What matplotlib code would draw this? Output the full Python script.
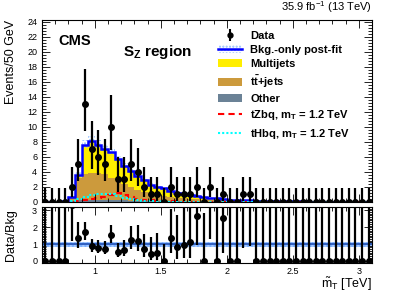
import numpy as np
import matplotlib
matplotlib.use("Agg")
import matplotlib.pyplot as plt
from matplotlib.patches import Patch
from matplotlib.lines import Line2D
from matplotlib.ticker import MultipleLocator, FormatStrFormatter

plt.rcParams['font.family'] = ['Liberation Sans', 'DejaVu Sans']
plt.rcParams['mathtext.fontset'] = 'custom'
plt.rcParams['mathtext.rm'] = 'Liberation Sans'
plt.rcParams['mathtext.it'] = 'Liberation Sans:italic'
plt.rcParams['mathtext.bf'] = 'Liberation Sans:bold'
plt.rcParams['hatch.linewidth'] = 1.0

# 50 GeV bins from 0.6 to 3.1 TeV
edges = np.round(np.linspace(0.60, 3.10, 51), 3)
centers = 0.5 * (edges[:-1] + edges[1:])

data = [0, 0, 0, 0, 2, 5, 13, 7, 6, 5,
        10, 3, 3, 5, 4, 2, 1, 1, 0, 2,
        1, 1, 1, 2, 0, 2, 0, 1, 0, 0,
        1, 1, 0, 0, 0, 0, 0, 0, 0, 0,
        0, 0, 0, 0, 0, 0, 0, 0, 0, 0]

bkg_total = [0.01, 0.01, 0.02, 0.1, 0.6, 3.6, 7.6, 8.1, 7.6, 7.1,
             6.6, 5.7, 4.8, 4.1, 3.4, 2.9, 2.3, 2.0, 1.8, 1.5,
             1.2, 1.05, 0.9, 0.75, 0.65, 0.55, 0.47, 0.39, 0.33, 0.28,
             0.23, 0.2, 0.17, 0.15, 0.13, 0.11, 0.1, 0.09, 0.08, 0.07,
             0.06, 0.055, 0.05, 0.045, 0.04, 0.035, 0.03, 0.03, 0.025, 0.02]

bkg_unc = [0.01, 0.01, 0.01, 0.05, 0.15, 0.35, 0.6, 0.65, 0.6, 0.5,
           0.45, 0.4, 0.35, 0.3, 0.25, 0.22, 0.18, 0.16, 0.14, 0.12,
           0.1, 0.09, 0.08, 0.07, 0.06, 0.05, 0.05, 0.04, 0.04, 0.03,
           0.03, 0.03, 0.02, 0.02, 0.02, 0.02, 0.02, 0.02, 0.02, 0.02,
           0.02, 0.02, 0.02, 0.02, 0.02, 0.02, 0.02, 0.02, 0.02, 0.02]

ttbar = [0.0, 0.0, 0.01, 0.05, 0.4, 3.0, 3.4, 3.6, 3.6, 3.4,
         3.0, 2.6, 2.2, 1.8, 1.5, 1.25, 1.0, 0.85, 0.7, 0.6,
         0.5, 0.42, 0.35, 0.3, 0.25, 0.21, 0.18, 0.15, 0.12, 0.1,
         0.09, 0.08, 0.07, 0.06, 0.05, 0.045, 0.04, 0.035, 0.03, 0.028,
         0.025, 0.022, 0.02, 0.018, 0.016, 0.014, 0.012, 0.01, 0.01, 0.008]

other = [0.0, 0.0, 0.0, 0.02, 0.1, 0.25, 0.3, 0.3, 0.3, 0.28,
         0.25, 0.22, 0.2, 0.18, 0.15, 0.13, 0.11, 0.1, 0.09, 0.08,
         0.07, 0.06, 0.05, 0.05, 0.04, 0.04, 0.03, 0.03, 0.03, 0.02,
         0.02, 0.02, 0.01, 0.01, 0.01, 0.01, 0.01, 0.01, 0.01, 0.01,
         0.01, 0.01, 0.01, 0.01, 0.01, 0.01, 0.01, 0.01, 0.01, 0.01]

tzbq = [0, 0, 0, 0.02, 0.05, 0.1, 0.2, 0.35, 0.5, 0.7,
        0.9, 1.2, 0.9, 0.6, 0.45, 0.3, 0.2, 0.15, 0.12, 0.1,
        0.08, 0.06, 0.05, 0.04, 0.03, 0.03, 0.02, 0.02, 0.02, 0.01,
        0.01, 0.01, 0.01, 0.01, 0.01, 0.01, 0.01, 0.01, 0.01, 0.01,
        0.01, 0.01, 0.01, 0.01, 0.01, 0.01, 0.01, 0.01, 0.01, 0.01]

thbq = [0, 0, 0, 0.02, 0.1, 0.4, 0.7, 0.9, 1.0, 1.05,
        1.0, 0.8, 0.55, 0.35, 0.22, 0.15, 0.1, 0.07, 0.05, 0.04,
        0.03, 0.03, 0.02, 0.02, 0.02, 0.01, 0.01, 0.01, 0.01, 0.01,
        0.01, 0.01, 0.01, 0.01, 0.01, 0.01, 0.01, 0.01, 0.01, 0.01,
        0.01, 0.01, 0.01, 0.01, 0.01, 0.01, 0.01, 0.01, 0.01, 0.01]

# Garwood 68% intervals for the observed counts
poisson_err = {0: (0.0, 1.841), 1: (0.827, 2.299), 2: (1.292, 2.638),
               3: (1.633, 2.918), 4: (1.914, 3.162), 5: (2.159, 3.382),
               6: (2.377, 3.583), 7: (2.575, 3.770), 10: (3.089, 4.267),
               13: (3.550, 4.710)}
ratio_band = 0.15

data = np.array(data, float)
bkg_total = np.array(bkg_total)
bkg_unc = np.array(bkg_unc)
ttbar = np.array(ttbar)
other = np.array(other)
multijets = np.clip(bkg_total - ttbar - other, 0, None)
err_lo = np.array([poisson_err[int(n)][0] for n in data])
err_hi = np.array([poisson_err[int(n)][1] for n in data])

c_multi = '#ffee00'
c_tt = '#cc9a3c'
c_other = '#6b8296'
c_band = '#8fbcff'

fig = plt.figure(figsize=(4.13, 2.96), dpi=100)
ax = fig.add_axes([0.1017, 0.3176, 0.799, 0.6148])
rax = fig.add_axes([0.1017, 0.1115, 0.799, 0.1892])

# stacked backgrounds
ax.stairs(other, edges, baseline=0, fill=True, color=c_other, lw=0)
ax.stairs(other + ttbar, edges, baseline=other, fill=True, color=c_tt, lw=0)
ax.stairs(other + ttbar + multijets, edges, baseline=other + ttbar,
          fill=True, color=c_multi, lw=0)
ax.stairs(bkg_total + bkg_unc, edges, baseline=bkg_total - bkg_unc, fill=True,
          facecolor='none', edgecolor=c_band, hatch='.....', lw=0)
ax.stairs(bkg_total, edges, color='#0000ff', lw=1.8)

ax.stairs(tzbq, edges, color='#ff0000', lw=1.5, ls=(0, (3, 2)))
ax.stairs(thbq, edges, color='#00ffff', lw=1.5, ls=(0, (1, 1)))

ax.errorbar(centers, data, yerr=[err_lo, err_hi], fmt='o', color='k',
            ms=4, elinewidth=1.6, capsize=0, zorder=5)

ax.set_xlim(0.6, 3.1)
ax.set_ylim(0, 24.2)
ax.yaxis.set_major_locator(MultipleLocator(2))
ax.yaxis.set_minor_locator(MultipleLocator(0.4))
ax.set_ylabel('Events/50 GeV', fontsize=9, loc='top')
ax.yaxis.set_label_coords(-0.075, 1.0)

# ratio panel
ratio = data / bkg_total
rax.fill_between([0.6, 3.1], 1 - ratio_band, 1 + ratio_band, color=c_band,
                 alpha=0.8, lw=0, hatch='....', edgecolor='#6fa8ff')
rax.axhline(1, color='#2f5fc0', lw=1.4)
rax.errorbar(centers, ratio, yerr=[err_lo / bkg_total, err_hi / bkg_total],
             fmt='o', color='k', ms=4, elinewidth=1.6, capsize=0, zorder=5)
rax.set_xlim(0.6, 3.1)
rax.set_ylim(-0.12, 3.2)
rax.yaxis.set_major_locator(MultipleLocator(1))
rax.yaxis.set_minor_locator(MultipleLocator(0.1))
rax.set_ylabel('Data/Bkg', fontsize=9)
rax.yaxis.set_label_coords(-0.075, 0.5)
rax.set_xlabel(r'$\tilde{\mathrm{m}}_{\mathrm{T}}$ [TeV]', fontsize=9)
rax.xaxis.set_label_coords(1.0, -0.23)
rax.xaxis.label.set_horizontalalignment('right')
rax.xaxis.label.set_verticalalignment('top')

for a in (ax, rax):
    a.xaxis.set_major_locator(MultipleLocator(0.5))
    a.xaxis.set_minor_locator(MultipleLocator(0.1))
    a.tick_params(which='both', direction='in', top=True, right=True,
                  labelsize=6.5, width=0.6)
    a.tick_params(which='major', length=6)
    a.tick_params(which='minor', length=3)
    for s in a.spines.values():
        s.set_linewidth(0.8)
ax.tick_params(labelbottom=False)
rax.xaxis.set_major_formatter(FormatStrFormatter('%g'))
rax.tick_params(axis='x', pad=3)

ax.text(0.05, 0.86, 'CMS', transform=ax.transAxes, fontsize=10.5,
        fontweight='bold')
ax.text(0.245, 0.8, r'$\mathbf{S}_{\mathbf{Z}}$ region', transform=ax.transAxes,
        fontsize=11, fontweight='bold')
ax.text(1.0, 1.025, r'35.9 fb$^{-1}$ (13 TeV)', transform=ax.transAxes,
        fontsize=8, ha='right', va='bottom')

handles = [
    (Line2D([0], [0], marker='|', ms=9, mew=1.5, color='k', ls='none'),
     Line2D([0], [0], marker='o', ms=3.5, color='k', ls='none')),
    (Patch(facecolor='none', edgecolor=c_band, hatch='.....', lw=0),
     Line2D([0], [0], color='#0000ff', lw=1.8)),
    Patch(facecolor=c_multi, lw=0),
    Patch(facecolor=c_tt, lw=0),
    Patch(facecolor=c_other, lw=0),
    Line2D([0], [0], color='#ff0000', lw=1.5, ls=(0, (3, 2))),
    Line2D([0], [0], color='#00ffff', lw=1.5, ls=(0, (1, 1))),
]
labels = ['Data', 'Bkg.-only post-fit', 'Multijets', r'$\mathbf{t\bar{t}}$+jets',
          'Other', r'tZbq, $\mathbf{m}_{\mathbf{T}}$ = 1.2 TeV',
          r'tHbq, $\mathbf{m}_{\mathbf{T}}$ = 1.2 TeV']
leg = ax.legend(handles, labels, loc='upper left', bbox_to_anchor=(0.52, 0.965),
                frameon=False, fontsize=8, handlelength=2.2, handletextpad=0.7,
                labelspacing=0.38, borderaxespad=0)
for t in leg.get_texts():
    t.set_fontweight('bold')

fig.savefig('out.png', dpi=100)
